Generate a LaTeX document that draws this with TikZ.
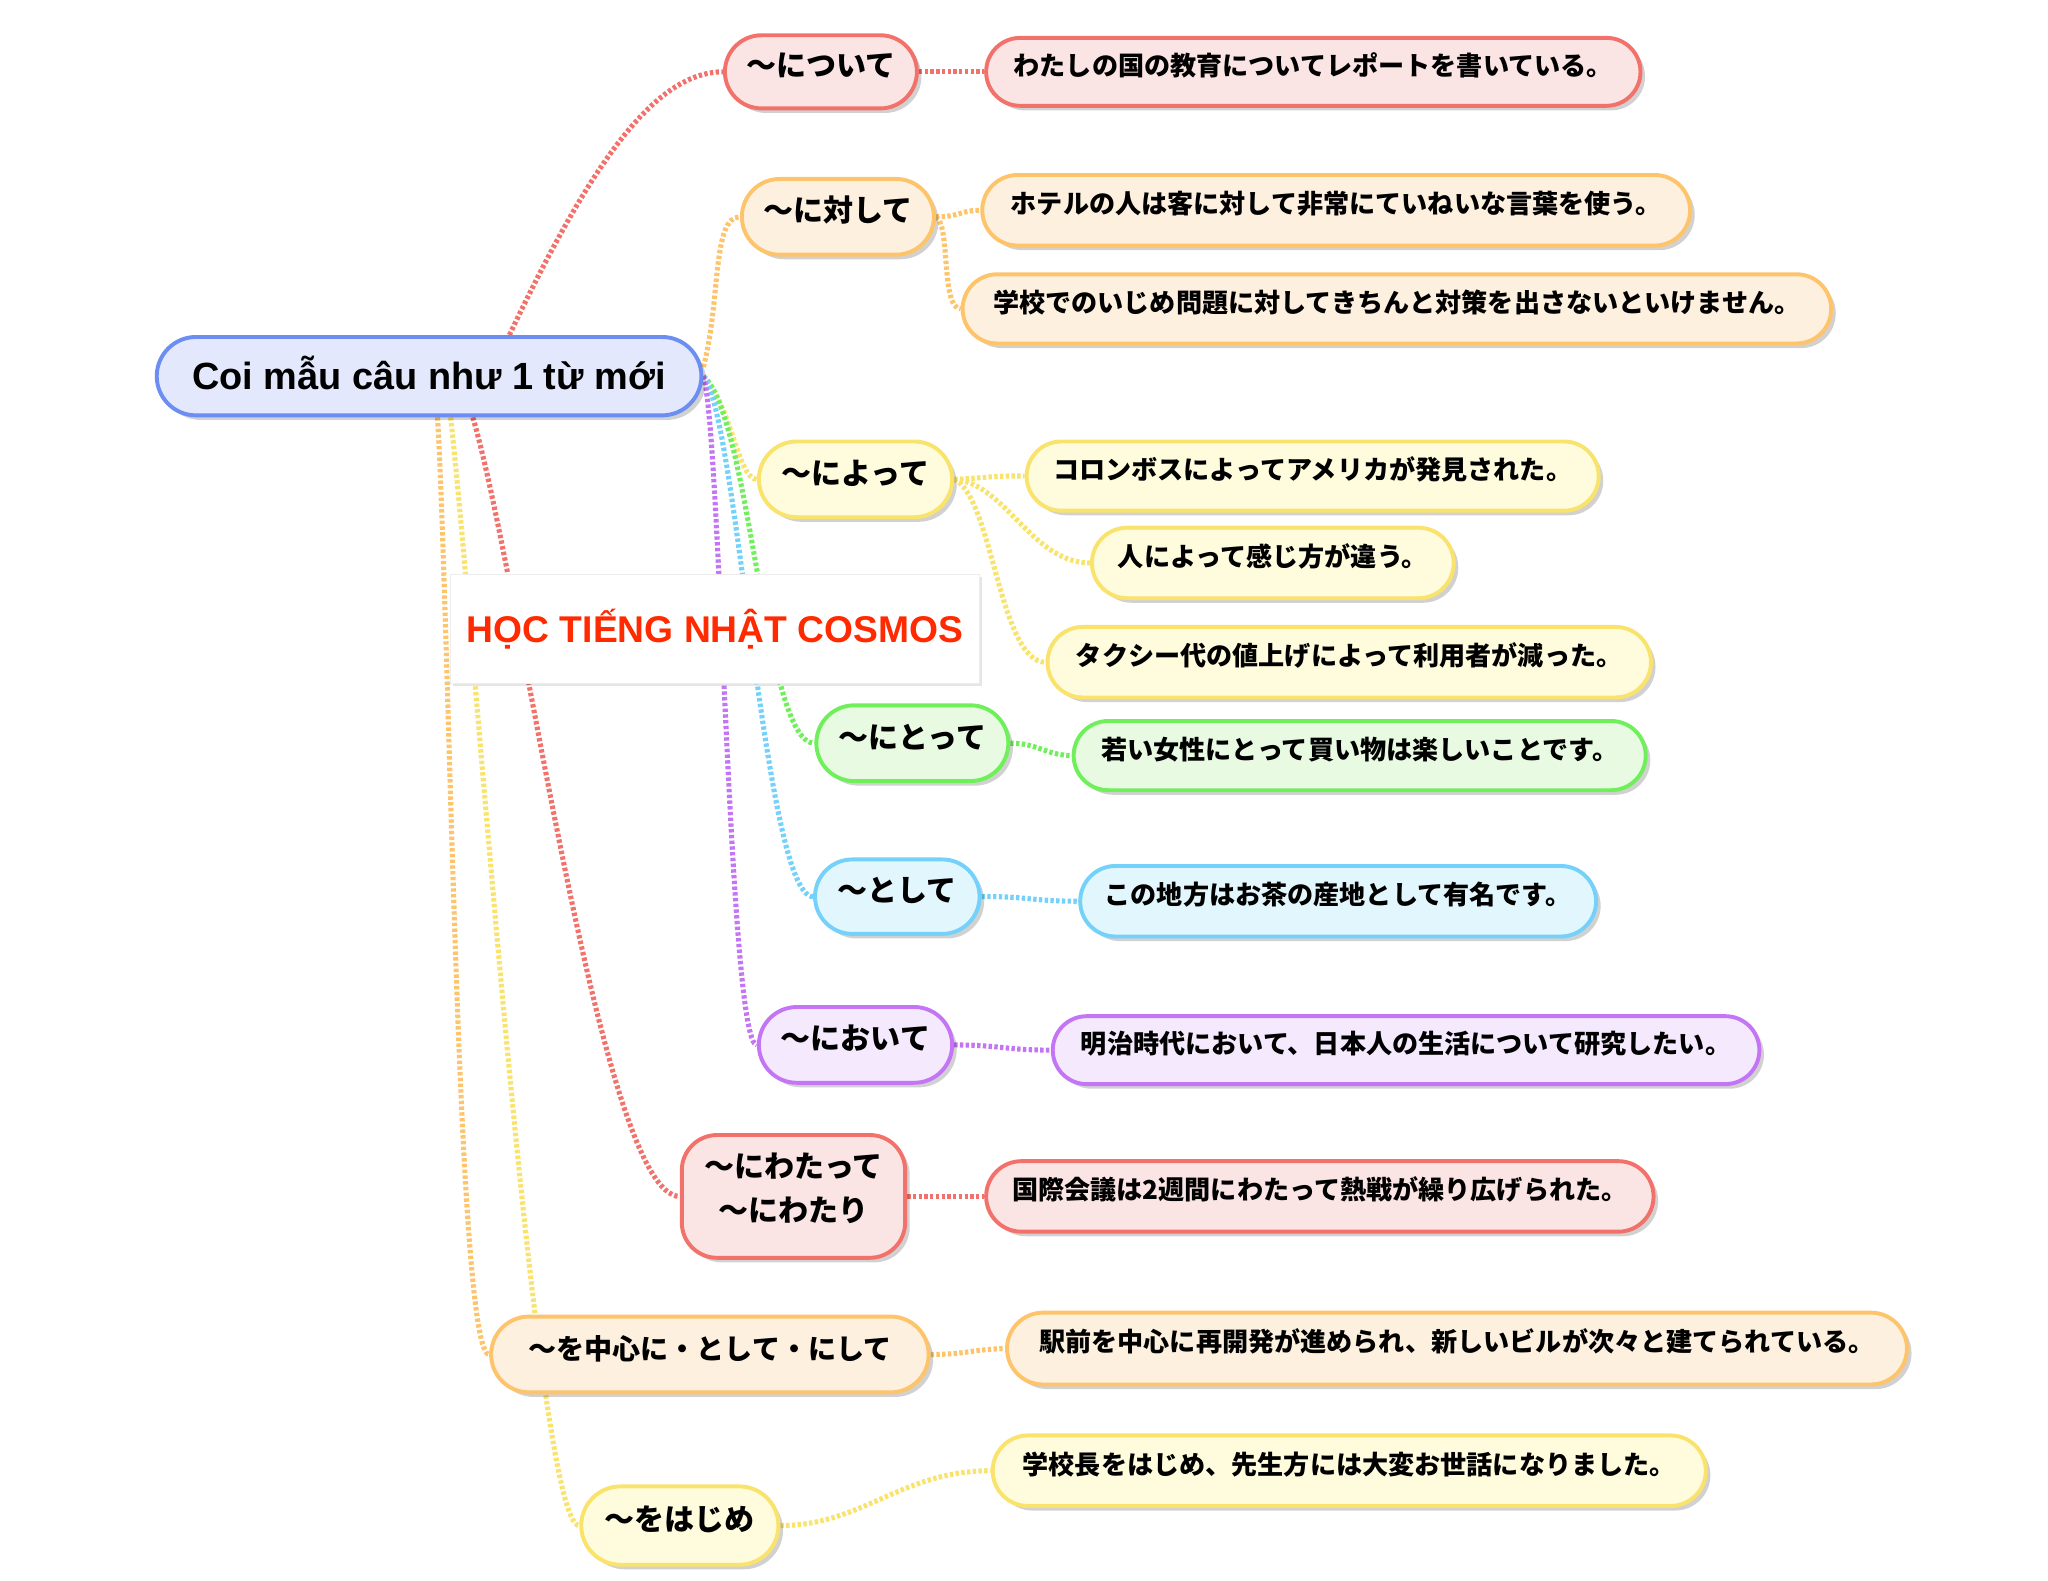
\documentclass[tikz,border=0pt]{standalone}
\usepackage{fontspec}
\setmainfont{Liberation Sans}
\newfontfamily\jp{Noto Sans CJK JP}
\usetikzlibrary{shapes.misc,shadows,backgrounds,calc}
\definecolor{redB}{HTML}{F2716B}\definecolor{redF}{HTML}{FBE4E4}
\definecolor{orgB}{HTML}{FDC46B}\definecolor{orgF}{HTML}{FDF0DE}
\definecolor{yelB}{HTML}{F9E36C}\definecolor{yelF}{HTML}{FEFCDC}
\definecolor{grnB}{HTML}{6FF05B}\definecolor{grnF}{HTML}{E8FBE2}
\definecolor{cynB}{HTML}{73D1FA}\definecolor{cynF}{HTML}{E2F7FD}
\definecolor{purB}{HTML}{C475F5}\definecolor{purF}{HTML}{F5EAFD}
\definecolor{bluB}{HTML}{6C8DF2}\definecolor{bluF}{HTML}{E3E8FC}
\definecolor{wmRed}{HTML}{FF2A00}
\tikzset{
  base/.style={rounded rectangle, line width=3pt, inner sep=0pt,
    drop shadow={shadow xshift=3.5pt, shadow yshift=-3.5pt, fill=black, opacity=0.18}},
  lvl/.style={base, font=\jp\bfseries\fontsize{23}{34}\selectfont, text height=12pt, text depth=4.5pt},
  sent/.style={base, font=\jp\bfseries\fontsize{20}{24}\selectfont, text height=11pt, text depth=5.8pt},
  kred/.style={draw=redB, fill=redF},
  korg/.style={draw=orgB, fill=orgF},
  kyel/.style={draw=yelB, fill=yelF},
  kgrn/.style={draw=grnB, fill=grnF},
  kcyn/.style={draw=cynB, fill=cynF},
  kpur/.style={draw=purB, fill=purF},
  link/.style={line width=3.9pt, dash pattern=on 2.6pt off 1.8pt},
}
\begin{document}
\begin{tikzpicture}[x=1pt,y=-1pt]
\useasboundingbox (0,0) rectangle (1568,1210.4);
% root
\node[base, draw=bluB, fill=bluF, minimum width=417pt, minimum height=60pt,
  font=\bfseries\fontsize{29}{34}\selectfont, text height=20.8pt, text depth=0pt]
  (root) at (328.5,288) {Coi mẫu câu như 1 từ mới};
% level 1
\node[lvl,kred,minimum width=147pt,minimum height=56pt] (n1) at (628.5,55) {～について};
\node[lvl,korg,minimum width=147pt,minimum height=58pt] (n2) at (641.5,166) {～に対して};
\node[lvl,kyel,minimum width=148pt,minimum height=58pt] (n3) at (655,367) {～によって};
\node[lvl,kgrn,minimum width=147pt,minimum height=58pt] (n4) at (698.5,569) {～にとって};
\node[lvl,kcyn,minimum width=126pt,minimum height=57pt] (n5) at (687,686.5) {～として};
\node[lvl,kpur,minimum width=148pt,minimum height=58pt] (n6) at (655,800) {～において};
\node[rectangle, rounded corners=27pt, line width=3pt, inner sep=0pt, kred,
  drop shadow={shadow xshift=3.5pt, shadow yshift=-3.5pt, fill=black, opacity=0.18},
  font=\jp\bfseries\fontsize{23}{34}\selectfont, align=center,
  minimum width=171pt, minimum height=94pt] (n7) at (607.5,916)
  {\raisebox{4.5pt}[\height][\depth]{\begin{tabular}{@{}c@{}}～にわたって\\～にわたり\end{tabular}}};
\node[lvl,korg,minimum width=335pt,minimum height=58pt,font=\jp\bfseries\fontsize{21.5}{30}\selectfont] (n8) at (543.5,1037) {～を中心に・として・にして};
\node[lvl,kyel,minimum width=151pt,minimum height=60pt] (n9) at (520.5,1168) {～をはじめ};
% sentences
\node[sent,kred,minimum width=501pt,minimum height=52pt] (c1) at (1005.5,55) {わたしの国の教育についてレポートを書いている。};
\node[sent,korg,minimum width=542pt,minimum height=54pt] (c2a) at (1023,161) {ホテルの人は客に対して非常にていねいな言葉を使う。};
\node[sent,korg,minimum width=665pt,minimum height=53pt] (c2b) at (1069.5,236.5) {学校でのいじめ問題に対してきちんと対策を出さないといけません。};
\node[sent,kyel,minimum width=438pt,minimum height=53pt] (c3a) at (1005,364.5) {コロンボスによってアメリカが発見された。};
\node[sent,kyel,minimum width=277pt,minimum height=54pt] (c3b) at (974.5,431) {人によって感じ方が違う。};
\node[sent,kyel,minimum width=462pt,minimum height=54pt] (c3c) at (1033,507) {タクシー代の値上げによって利用者が減った。};
\node[sent,kgrn,minimum width=438pt,minimum height=53pt] (c4) at (1041,578.5) {若い女性にとって買い物は楽しいことです。};
\node[sent,kcyn,minimum width=395pt,minimum height=54pt] (c5) at (1024.5,690) {この地方はお茶の産地として有名です。};
\node[sent,kpur,minimum width=541pt,minimum height=52pt] (c6) at (1076.5,804) {明治時代において、日本人の生活について研究したい。};
\node[sent,kred,minimum width=511pt,minimum height=54pt] (c7) at (1010.5,916) {国際会議は2週間にわたって熱戦が繰り広げられた。};
\node[sent,korg,minimum width=689pt,minimum height=55pt] (c8) at (1115.5,1032.5) {駅前を中心に再開発が進められ、新しいビルが次々と建てられている。};
\node[sent,kyel,minimum width=546pt,minimum height=54pt] (c9) at (1033,1126) {学校長をはじめ、先生方には大変お世話になりました。};
% connectors
\begin{scope}[on background layer]
\draw[link,redB] ($(root.north)+(61.5,0)$) .. controls (450,130) and (500,55) .. (n1.west);
\draw[link,orgB] ($(root.east)+(0,-7)$) .. controls (552,230) and (545,166) .. (n2.west);
\draw[link,yelB] (root.east) .. controls (560,310) and (565,367) .. (n3.west);
\draw[link,grnB] (root.east) .. controls (575,320) and (585,569) .. (n4.west);
\draw[link,cynB] (root.east) .. controls (565,320) and (585,686) .. (n5.west);
\draw[link,purB] (root.east) .. controls (552,330) and (558,800) .. (n6.west);
\draw[link,redB] ($(root.south)+(33.5,0)$) .. controls (400,450) and (460,916) .. (n7.west);
\draw[link,orgB] ($(root.south)+(6.5,0)$) .. controls (345,500) and (350,1037) .. (n8.west);
\draw[link,yelB] ($(root.south)+(16.5,0)$) .. controls (365,500) and (410,1168) .. (n9.west);
\draw[link,redB] (n1.east) -- (c1.west);
\draw[link,orgB] (n2.east) .. controls (735,166) and (735,161) .. (c2a.west);
\draw[link,orgB] (n2.east) .. controls (728,172) and (720,236) .. (c2b.west);
\draw[link,yelB] (n3.east) .. controls (755,366) and (760,364) .. (c3a.west);
\draw[link,yelB] (n3.east) .. controls (770,370) and (790,431) .. (c3b.west);
\draw[link,yelB] (n3.east) .. controls (760,380) and (765,507) .. (c3c.west);
\draw[link,grnB] (n4.east) .. controls (795,569) and (800,578) .. (c4.west);
\draw[link,cynB] (n5.east) .. controls (785,686) and (790,690) .. (c5.west);
\draw[link,purB] (n6.east) .. controls (765,800) and (770,804) .. (c6.west);
\draw[link,redB] (n7.east) -- (c7.west);
\draw[link,orgB] (n8.east) .. controls (740,1037) and (745,1033) .. (c8.west);
\draw[link,yelB] (n9.east) .. controls (660,1168) and (690,1126) .. (c9.west);
\end{scope}
% watermark
\node[fill=white, draw=black!7, line width=0.8pt,
  drop shadow={shadow xshift=2pt, shadow yshift=-2pt, fill=black, opacity=0.1},
  minimum width=405pt, minimum height=83pt, inner sep=0pt,
  font=\bfseries\fontsize{28.5}{34}\selectfont, text=wmRed, text height=20.4pt, text depth=0pt]
  (wm) at (547.5,481.5) {HỌC TIẾNG NHẬT COSMOS};
\end{tikzpicture}
\end{document}
